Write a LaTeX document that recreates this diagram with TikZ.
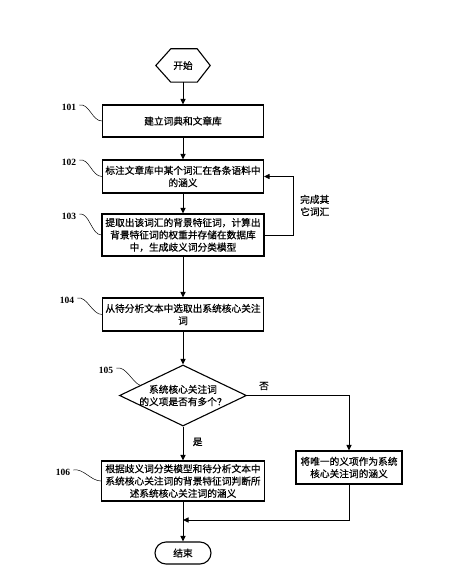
\documentclass[tikz,border=0pt]{standalone}
\usepackage{fontspec}
\setmainfont{Liberation Serif}
\newfontfamily\cjk[FakeBold=0.6]{Noto Sans CJK SC}
\usetikzlibrary{shapes.geometric,shapes.misc,arrows.meta,calc}
\begin{document}
\begin{tikzpicture}[x=1pt,y=-1pt,
  cjkfont/.style={font=\cjk\fontsize{9.7}{12.3}\selectfont},
  box/.style={draw, line width=1.1pt, align=center, cjkfont, inner sep=1pt},
  arr/.style={line width=1pt, -{Triangle[length=5.5pt,width=5pt]}},
  lbl/.style={font=\fontsize{9.5}{10}\selectfont\bfseries, inner sep=1pt},
  wav/.style={line width=0.5pt}]
\useasboundingbox (0,0) rectangle (474,588);

% start hexagon
\node[cjkfont, minimum width=54pt, minimum height=33pt, inner sep=0] (start) at (183,65.5) {开始};
\draw[line width=1.1pt] (start.west) -- ($(start.north west)+(15,0)$) -- ($(start.north east)+(-13,0)$) -- (start.east)
  -- ($(start.south east)+(-13,0)$) -- ($(start.south west)+(15,0)$) -- cycle;

\node[box, minimum width=161pt, minimum height=32pt] (b1) at (183,121) {建立词典和文章库};
\node[box, minimum width=161pt, minimum height=33pt] (b2) at (183,176.5) {标注文章库中某个词汇在各条语料中\\的涵义};
\node[box, minimum width=162pt, minimum height=42pt] (b3) at (183,235) {提取出该词汇的背景特征词，计算出\\背景特征词的权重并存储在数据库\\中，生成歧义词分类模型};
\node[box, minimum width=161pt, minimum height=33pt] (b4) at (183,314.5) {从待分析文本中选取出系统核心关注\\词};
\node[draw, line width=1.1pt, diamond, minimum width=127pt, minimum height=61pt, inner sep=0] (d) at (183,395.5) {};
\node[cjkfont, align=center, inner sep=0] (dt) at (183,395.5) {系统核心关注词\\的义项是否有多个？};
\node[box, minimum width=163pt, minimum height=40pt] (b6) at (183,481) {根据歧义词分类模型和待分析文本中\\系统核心关注词的背景特征词判断所\\述系统核心关注词的涵义};
\node[box, minimum width=106pt, minimum height=33pt] (r) at (349,467.5) {将唯一的义项作为系统\\核心关注词的涵义};
\node[draw, line width=1.1pt, rounded rectangle, cjkfont, minimum width=56pt, minimum height=22pt, inner sep=0] (e) at (183,553) {结束};
\coordinate (m) at (183,520);

% main arrows
\draw[arr] (start.south) -- (b1.north);
\draw[arr] (b1.south) -- (b2.north);
\draw[arr] (b2.south) -- (b3.north);
\draw[arr] (b3.south) -- (b4.north);
\draw[arr] (b4.south) -- (d.north);
\draw[arr] (d.south) -- node[cjkfont, right, pos=0.45, xshift=6pt] (yes) {是} (b6.north);
\draw[arr] (d.east) -| (r.north);
\node[cjkfont] (no) at (264,386) {否};
\draw[arr] (r.south) |- (m);
\draw[arr] (b6.south) -- (e.north);

% feedback loop
\draw[arr] (b3.east) -- ++(29,0) |- (b2.east);
\node[cjkfont, align=left, anchor=west, inner sep=0] (done) at (300,205.5) {完成其\\它词汇};

% step labels
\node[lbl] (l1) at (69,107) {101};
\node[lbl] (l2) at (69,162) {102};
\node[lbl] (l3) at (69,216) {103};
\node[lbl] (l4) at (67,300) {104};
\node[lbl] (l5) at (106,370) {105};
\node[lbl] (l6) at (63,472) {106};
\draw[wav] ($(l1.east)+(2,-2)$) .. controls +(10,-2) and +(-10,0) .. (b1.west);
\draw[wav] ($(l2.east)+(2,-2)$) .. controls +(10,-2) and +(-10,0) .. (b2.west);
\draw[wav] ($(l3.east)+(2,-2)$) .. controls +(10,-2) and +(-10,0) .. (b3.west);
\draw[wav] ($(l4.east)+(2,-2)$) .. controls +(10,-2) and +(-10,0) .. (b4.west);
\draw[wav] ($(l5.east)+(2,-2)$) .. controls +(10,-2) and +(-8,-3) .. ($(d.west)!0.33!(d.north)$);
\draw[wav] ($(l6.east)+(2,-2)$) .. controls +(10,-2) and +(-10,0) .. (b6.west);
\end{tikzpicture}
\end{document}
